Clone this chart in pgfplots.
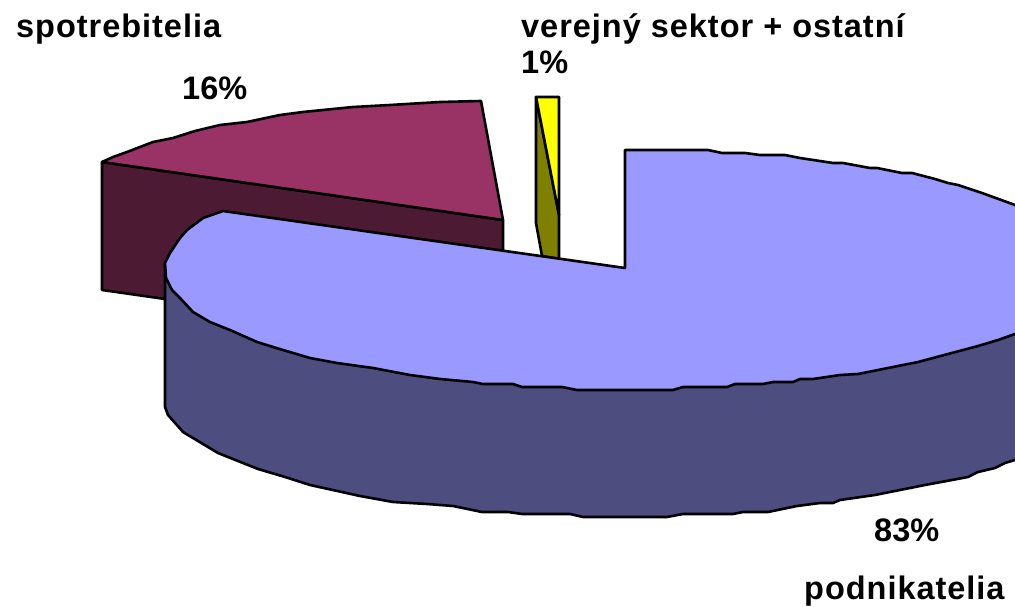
\documentclass[border=0pt]{standalone}
\usepackage{fontspec}
\setmainfont{Liberation Sans}
\newfontfamily\spaced[LetterSpace=3]{Liberation Sans}
\usepackage{pgfplots}
\pgfplotsset{compat=1.18}

\definecolor{pieBlue}{HTML}{9999FF}
\definecolor{pieBlueDark}{HTML}{4D4D80}
\definecolor{piePlum}{HTML}{993366}
\definecolor{piePlumDark}{HTML}{4D1A33}
\definecolor{pieYellow}{HTML}{FFFF00}
\definecolor{pieOlive}{HTML}{808000}

\tikzset{lab/.style={anchor=base west, inner sep=0pt, font=\fontsize{32.5}{34}\selectfont\bfseries}}

\begin{document}
\begin{tikzpicture}
\useasboundingbox (0,0) rectangle (1015pt,607pt);
\begin{axis}[
    at={(0,0)}, anchor=south west,
    width=1015pt, height=607pt, scale only axis,
    xmin=0, xmax=1015, ymin=0, ymax=607,
    y dir=reverse,
    axis lines=none,
    enlargelimits=false,
    every axis plot/.append style={draw=black, line width=2.6pt, line join=round, no markers},
]
% plum slice, side then top
\addplot[fill=piePlumDark] coordinates {(102,162) (503,220) (503,251) (300,320) (165,299) (102,290)} -- cycle;
\addplot[fill=piePlum] coordinates {(102,162) (113,157) (127,152) (153,142) (173,138) (195,131) (220,125) (247,122) (280,115) (303,112) (353,107) (390,105) (440,102) (481,101) (503,220)} -- cycle;
% yellow slice
\addplot[fill=pieOlive] coordinates {(536,97) (559,215) (559,259) (542,256) (536,223)} -- cycle;
\addplot[fill=pieYellow] coordinates {(536,97) (559,97) (559,215)} -- cycle;
% blue slice, side then top
\addplot[fill=pieBlueDark] coordinates {(165,263) (165,407) (168,415) (183,432) (193,438) (218,453) (258,469) (285,477) (310,485) (360,496) (393,502) (427,504) (453,506) (482,512) (508,512) (522,514) (570,514) (583,517) (667,517) (683,514) (733,514) (743,512) (768,512) (797,506) (820,503) (833,503) (840,500) (875,495) (900,490) (925,485) (952,480) (968,477) (978,472) (995,468) (1005,463) (1015,460) (1040,450) (1040,325) (1015,334) (800,300)} -- cycle;
\addplot[fill=pieBlue] coordinates {(625,268) (625,150) (708,150) (722,153) (745,153) (760,155) (785,155) (800,158) (833,163) (843,163) (870,168) (877,168) (902,173) (912,173) (935,179) (948,183) (958,185) (982,193) (1015,205) (1040,215) (1050,270) (1040,325) (1015,334) (998,340) (978,346) (948,354) (918,362) (888,368) (858,374) (840,375) (813,379) (800,379) (793,382) (773,382) (763,384) (735,384) (727,387) (683,387) (673,390) (577,390) (562,387) (522,387) (513,384) (483,384) (473,382) (440,379) (410,375) (373,368) (337,363) (310,358) (283,350) (257,342) (230,330) (210,322) (193,312) (180,298) (172,290) (166,278) (165,263) (170,253) (180,238) (187,230) (203,218) (223,211)} -- cycle;

\node[lab] at (axis cs:16,38) {\spaced spotrebitelia};
\node[lab] at (axis cs:182,100) {16\%};
\node[lab] at (axis cs:521,38) {\spaced verejný sektor + ostatní};
\node[lab] at (axis cs:521,74) {1\%};
\node[lab] at (axis cs:874,541) {83\%};
\node[lab] at (axis cs:804,599) {\spaced podnikatelia};
\end{axis}
\end{tikzpicture}
\end{document}
